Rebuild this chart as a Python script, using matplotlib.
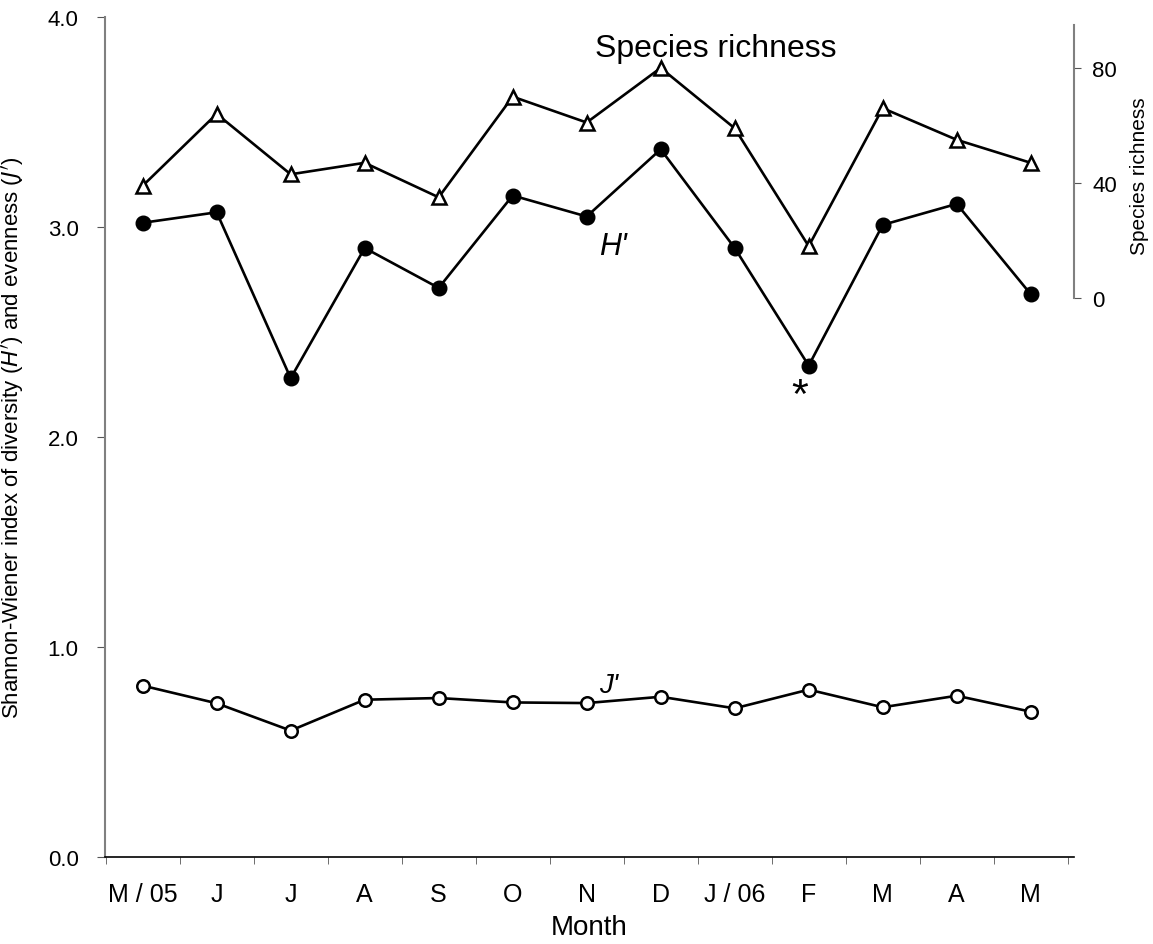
import matplotlib
matplotlib.use("Agg")
import matplotlib.pyplot as plt
import numpy as np

# month labels (May 2005 - May 2006)
months = ["M / 05", "J", "J", "A", "S", "O", "N", "D", "J / 06", "F", "M", "A", "M"]

# Shannon-Wiener diversity H'
h_div = [3.02, 3.07, 2.28, 2.90, 2.71, 3.15, 3.05, 3.37, 2.90, 2.34, 3.01, 3.11, 2.68]
# evenness J'
j_even = [0.816, 0.732, 0.602, 0.749, 0.757, 0.736, 0.733, 0.763, 0.708, 0.797, 0.713, 0.768, 0.692]
# species richness (right axis)
richness = [39, 64, 43, 47, 35, 70, 61, 80, 59, 18, 66, 55, 47]

plt.rcParams['font.family'] = ['Liberation Sans', 'DejaVu Sans']

fig = plt.figure(figsize=(11.53, 9.45), dpi=100)
W, H = 1153.0, 945.0
ax = fig.add_axes([105 / W, 1 - 858 / H, (1074 - 105) / W, (858 - 18) / H])
x = np.arange(len(months))

ax.plot(x, h_div, color='black', lw=1.9, marker='o', ms=10.5, mfc='black', mec='black', zorder=3)
ax.plot(x, j_even, color='black', lw=1.9, marker='o', ms=9, mfc='white', mec='black', mew=1.8, zorder=3)

ax.set_xlim(-0.509, 12.585)
ax.set_ylim(0, 4)
ax.set_yticks([0, 1, 2, 3, 4])
ax.set_yticklabels(["%.1f" % v for v in [0, 1, 2, 3, 4]], fontsize=16)
ax.set_xticks(x)
ax.set_xticklabels(months, fontsize=18)
ax.set_xticks(np.arange(-0.5, 13), minor=True)
ax.tick_params(axis='x', which='major', length=0, pad=18)
ax.tick_params(axis='x', which='minor', length=5, direction='out', color='#555555')
ax.tick_params(axis='y', length=6, direction='out', color='#555555', pad=13)

for s in ['top', 'right']:
    ax.spines[s].set_visible(False)
ax.spines['left'].set_color('#808080')
ax.spines['left'].set_linewidth(1.5)
ax.spines['bottom'].set_color('black')
ax.spines['bottom'].set_linewidth(1.2)

ax.set_xlabel("Month", fontsize=20, labelpad=6)
ax.set_ylabel("Shannon-Wiener index of diversity ($\\it{H'}$) and evenness ($\\it{J'}$)", fontsize=16)
ax.yaxis.set_label_coords(-0.0815, 0.5)

# richness on a second axis, only the top part is drawn
ax2 = ax.twinx()
ax2.plot(x, richness, color='black', lw=1.9, marker='^', ms=10.5, mfc='white', mec='black', mew=1.8, zorder=3)
ax2.set_ylim(-194.4, 97.7)
ax2.set_yticks([0, 40, 80])
ax2.set_yticklabels(["0", "40", "80"], fontsize=16)
ax2.tick_params(axis='y', length=5, direction='out', color='#555555', pad=8)
for s in ['top', 'left', 'bottom']:
    ax2.spines[s].set_visible(False)
ax2.spines['right'].set_bounds(0, 95)
ax2.spines['right'].set_color('#808080')
ax2.spines['right'].set_linewidth(1.5)
ax2.set_ylabel("Species richness", fontsize=15, rotation=90)
ax2.yaxis.set_label_coords(1.058, 0.812)

# annotations
ax.text(7.75, 3.814, "Species richness", fontsize=23, ha='center', va='baseline')
ax.text(6.36, 2.871, "H'", fontsize=22, style='italic', ha='center', va='baseline')
ax.text(6.30, 0.786, "J'", fontsize=20, style='italic', ha='center', va='baseline')
ax.text(8.88, 2.195, "*", fontsize=31, ha='center', va='center')

fig.savefig("out.png", dpi=100)
